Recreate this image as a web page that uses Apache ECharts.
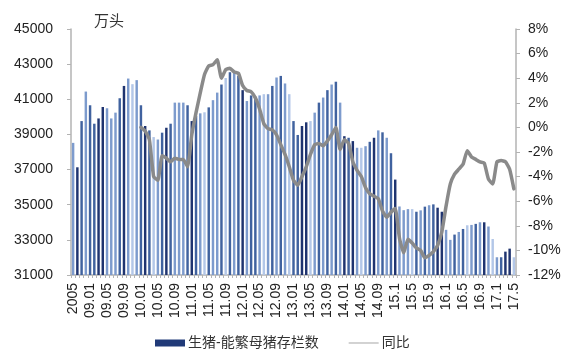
<!DOCTYPE html>
<html>
<head>
<meta charset="utf-8">
<script src="https://cdn.jsdelivr.net/npm/echarts@6/dist/echarts.min.js"></script>
<style>
html,body{margin:0;padding:0;background:#fff;}
#c{width:582px;height:355px;}
</style>
</head>
<body>
<div id="c"></div>
<script>
// Monthly categories (2008.09 - 2017.05)
var categories = [
 "08.09","08.10","08.11","08.12",
 "09.01","09.02","09.03","09.04","09.05","09.06","09.07","09.08","09.09","09.10","09.11","09.12",
 "10.01","10.02","10.03","10.04","10.05","10.06","10.07","10.08","10.09","10.10","10.11","10.12",
 "11.01","11.02","11.03","11.04","11.05","11.06","11.07","11.08","11.09","11.10","11.11","11.12",
 "12.01","12.02","12.03","12.04","12.05","12.06","12.07","12.08","12.09","12.10","12.11","12.12",
 "13.01","13.02","13.03","13.04","13.05","13.06","13.07","13.08","13.09","13.10","13.11","13.12",
 "14.01","14.02","14.03","14.04","14.05","14.06","14.07","14.08","14.09","14.10","14.11","14.12",
 "15.01","15.02","15.03","15.04","15.05","15.06","15.07","15.08","15.09","15.10","15.11","15.12",
 "16.01","16.02","16.03","16.04","16.05","16.06","16.07","16.08","16.09","16.10","16.11","16.12",
 "17.01","17.02","17.03","17.04","17.05"
];
// Tick labels shown on the x axis (every 4th month)
var tickLabels = ["2005","09.01","09.05","09.09","10.01","10.05","10.09","11.01","11.05","11.09",
 "12.01","12.05","12.09","13.01","13.05","13.09","14.01","14.05","14.09","15.1","15.5","15.9",
 "16.1","16.5","16.9","17.1","17.5"];
var leftTicks = [31000,33000,35000,37000,39000,41000,43000,45000];
// 生猪-能繁母猪存栏数 (万头)
var sowStock = [
 38520,37130,39760,41440,40660,39610,39910,40560,40490,39910,
 40240,41060,41760,42180,41860,42090,40660,39480,39230,38850,
 38710,39100,39380,39610,40810,40810,40810,40660,39760,40050,
 40200,40260,40540,40950,41380,41840,42210,42540,42520,42330,
 41520,40900,41220,41150,41220,41290,41290,41760,42240,42330,
 41900,41290,39760,38970,39480,39690,39760,40240,40810,41100,
 41520,41840,42000,40810,38900,38810,38620,38240,38240,38330,
 38580,38810,39230,39120,38810,37930,36430,34900,34690,34750,
 34750,34600,34680,34890,34970,35020,34830,34600,33570,33000,
 33300,33450,33620,33830,33850,33910,34000,34000,33760,33050,
 32010,32010,32330,32500,32010
];
// 同比 (%)
var yoy = [
 null,null,null,null,null,null,null,null,null,null,null,null,null,null,null,null,
 0.0,-0.3,-1.0,-4.0,-4.3,-2.3,-2.5,-2.8,-2.5,-2.6,
 -2.6,-3.2,-0.6,1.2,2.8,4.3,5.0,5.1,5.5,4.0,
 4.7,4.8,4.5,4.4,3.4,3.0,2.9,2.4,1.5,0.3,
 -0.1,-0.2,-0.6,-1.4,-2.2,-3.2,-4.3,-4.7,-4.0,-3.2,
 -2.2,-1.4,-1.3,-1.5,-1.1,-0.6,0.0,-1.8,-1.0,-1.3,
 -2.8,-3.5,-4.0,-4.9,-5.4,-5.6,-5.8,-6.8,-7.3,-6.9,
 -6.6,-9.0,-10.2,-9.1,-9.4,-9.8,-10.0,-10.6,-10.4,-10.1,
 -9.6,-8.5,-6.4,-4.6,-3.8,-3.4,-3.0,-1.9,-2.4,-2.6,
 -2.8,-2.9,-4.2,-4.6,-2.8,-2.7,-2.8,-3.4,-5.0
];

// style: per-bar shade pattern
var shadeCodes = "LDMLMMDDLLLMDLPLMDMPLMDMLL" + "LMDMLPMLLMPMLMDLMMLPLMLMLPM" +
                 "MDDPLMLMLMLDMDLPLMDLMLMDLL" + "LPMLMLMDDLLMLMPLMLDLPLMDDP";
var shadeColors = {D:'#1f3470', M:'#40629f', L:'#7d9bcd', P:'#b3c7e8'};

var FONT = '"Liberation Sans", Arial, "Noto Sans CJK SC", sans-serif';
var axisGray = '#b3b3b3';

var chart = echarts.init(document.getElementById('c'), null, {renderer:'canvas'});
chart.setOption({
  animation: false,
  backgroundColor: '#fff',
  textStyle: {fontFamily: FONT},
  title: {
    text: '万头', left: 89, top: 9,
    textStyle: {fontSize: 15, fontWeight: 'normal', color: '#333', fontFamily: FONT}
  },
  grid: {left: 71, right: 66, top: 29, bottom: 80, containLabel: false},
  legend: {
    left: 150, top: 331,
    itemGap: 30, itemWidth: 30, itemHeight: 7,
    textStyle: {fontSize: 14, color: '#333', fontFamily: FONT, padding: [0,0,0,-2]},
    data: [
      {name: '生猪-能繁母猪存栏数', icon: 'rect', itemStyle: {color: '#203a78'}},
      {name: '同比', icon: 'path://M0,0 L40,0 L40,1.6 L0,1.6 Z', itemStyle: {color: '#b5b5b5'}}
    ]
  },
  xAxis: {
    type: 'category',
    data: categories,
    boundaryGap: true,
    axisLine: {show: true, onZero: false, lineStyle: {color: axisGray, width: 1.5}},
    axisTick: {show: true, interval: 0, length: 3, lineStyle: {color: axisGray}},
    axisLabel: {
      interval: 3, rotate: 90, margin: 8,
      fontSize: 14, color: '#222', fontFamily: FONT,
      formatter: function (v, idx) { return tickLabels[Math.round(idx / 4)]; }
    },
    splitLine: {show: false}
  },
  yAxis: [
    {
      type: 'value', min: 31000, max: 45000,
      axisLine: {show: true, lineStyle: {color: axisGray, width: 1.5}},
      axisTick: {show: true, length: 4, customValues: leftTicks, lineStyle: {color: axisGray}},
      axisLabel: {customValues: leftTicks, margin: 18, fontSize: 14, color: '#222', fontFamily: FONT,
        formatter: function (v) { return String(v); }},
      splitLine: {show: false}
    },
    {
      type: 'value', min: -12, max: 8, interval: 2, position: 'right',
      axisLine: {show: true, lineStyle: {color: axisGray, width: 1.5}},
      axisTick: {show: true, length: 4, lineStyle: {color: axisGray}},
      axisLabel: {margin: 12, fontSize: 14, color: '#222', fontFamily: FONT, formatter: '{value}%'},
      splitLine: {show: false}
    }
  ],
  series: [
    {
      name: '生猪-能繁母猪存栏数',
      type: 'bar',
      yAxisIndex: 0,
      data: sowStock,
      barWidth: '58%',
      itemStyle: {
        color: function (p) { return shadeColors[shadeCodes.charAt(p.dataIndex)] || '#40629f'; }
      }
    },
    {
      name: '同比',
      type: 'line',
      yAxisIndex: 1,
      data: yoy,
      symbol: 'none',
      showSymbol: false,
      smooth: 0.15,
      lineStyle: {color: '#8a8a8a', width: 3.5, cap: 'round', join: 'round'},
      itemStyle: {color: '#8a8a8a'},
      z: 5
    }
  ]
});
</script>
</body>
</html>
